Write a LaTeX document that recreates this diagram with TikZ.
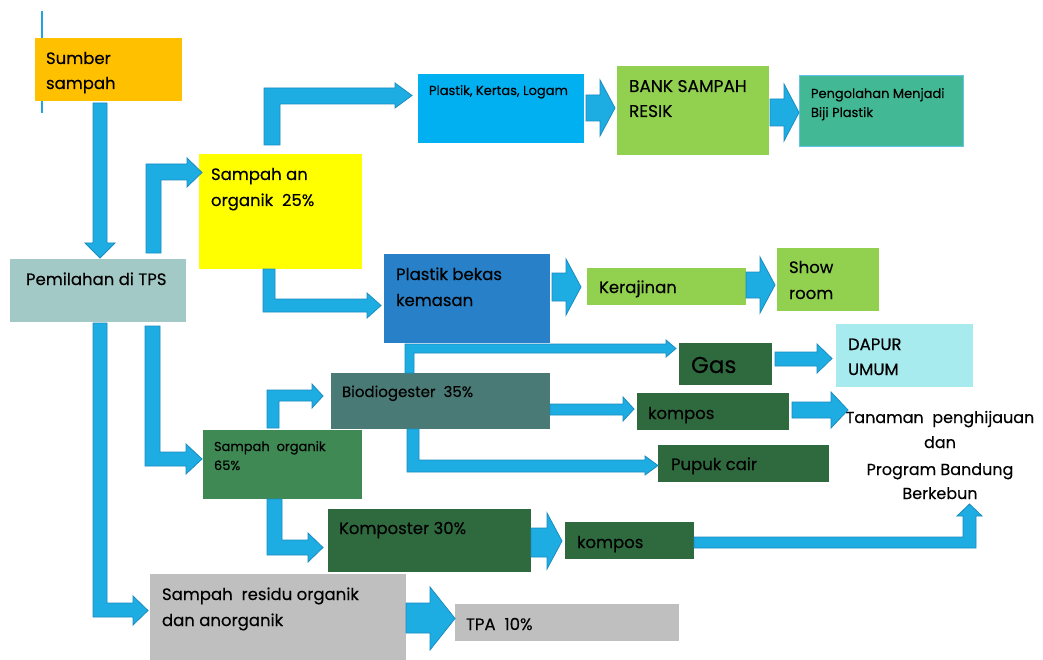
\documentclass[tikz,border=0pt]{standalone}
\usepackage{fontspec}
\setmainfont{Poppins}[FakeBold=0.3]
\definecolor{orangeBox}{HTML}{FFC000}
\definecolor{tpsBox}{HTML}{A3C9C6}
\definecolor{yellowBox}{HTML}{FFFF00}
\definecolor{cyanBox}{HTML}{00B0F0}
\definecolor{limeBox}{HTML}{92D050}
\definecolor{tealBox}{HTML}{43B894}
\definecolor{tealEdge}{HTML}{63C3EA}
\definecolor{blueBox}{HTML}{2881C8}
\definecolor{darkGreen}{HTML}{2F6A3F}
\definecolor{dapurBox}{HTML}{A7EBEE}
\definecolor{bioBox}{HTML}{4A7A75}
\definecolor{soBox}{HTML}{3F8A54}
\definecolor{grayBox}{HTML}{BFBFBF}
\definecolor{arrowFill}{HTML}{1EADE2}
\definecolor{arrowLine}{HTML}{1A8CC0}
\definecolor{thinLine}{HTML}{1FA5DD}
% box: name, x1, y1, x2, y2, colour
\newcommand{\BoxAt}[6]{\node[box, fill=#6, minimum width={(#4-#2)*1pt}, minimum height={(#5-#3)*1pt}] (#1) at (#2,#3) {};}
% straight block arrow: x0, xh, xt, ys1, ys2, yh1, yh2
\newcommand{\HArrow}[7]{\filldraw[blk] (#1,#4) -- (#2,#4) -- (#2,#6) -- (#3,{(#6+#7)/2}) -- (#2,#7) -- (#2,#5) -- (#1,#5) -- cycle;}
% up then right: xl, xr, yb, yt1, yt2, xh, yh1, yh2, xt
\newcommand{\UpRight}[9]{\filldraw[blk] (#1,#3) -- (#1,#4) -- (#6,#4) -- (#6,#7) -- (#9,{(#7+#8)/2}) -- (#6,#8) -- (#6,#5) -- (#2,#5) -- (#2,#3) -- cycle;}
% down then right: xl, xr, ytop, ys1, ys2, xh, yh1, yh2, xt
\newcommand{\DownRight}[9]{\filldraw[blk] (#1,#3) -- (#1,#5) -- (#6,#5) -- (#6,#8) -- (#9,{(#7+#8)/2}) -- (#6,#7) -- (#6,#4) -- (#2,#4) -- (#2,#3) -- cycle;}
\begin{document}
\begin{tikzpicture}[x=1pt,y=-1pt,
  box/.style={rectangle, draw=none, inner sep=0pt, outer sep=0pt, anchor=north west},
  txt/.style={inner sep=0pt, outer sep=0pt, anchor=base west, text=black, font=\fontsize{16.5}{20}\selectfont},
  small/.style={font=\fontsize{13}{15}\selectfont},
  ctxt/.style={txt, anchor=base, font=\fontsize{16}{20}\selectfont},
  blk/.style={fill=arrowFill, draw=arrowLine, line width=0.8pt, line join=miter}]
\useasboundingbox (0,0) rectangle (1043,660);
\fill[white] (0,0) rectangle (1043,660);

% thin vertical line behind the first box
\coordinate (lineTop) at (42,11);
\coordinate (lineBot) at (42,113);
\draw[thinLine, line width=1.6pt] (lineTop) -- (lineBot);

% boxes
\BoxAt{sumber}{35}{38}{182}{101}{orangeBox}
\BoxAt{tps}{10}{259}{186}{322}{tpsBox}
\BoxAt{anorg}{199}{154}{362}{269}{yellowBox}
\BoxAt{pkl}{418}{74}{584}{143}{cyanBox}
\BoxAt{bank}{617}{66}{769}{155}{limeBox}
\node[box, fill=tealBox, draw=tealEdge, line width=1pt, minimum width=164pt, minimum height=71pt] (olah) at (799,76) {};
\BoxAt{pbk}{384}{254}{550}{343}{blueBox}
\BoxAt{kraj}{587}{268}{746}{305}{limeBox}
\BoxAt{show}{777}{248}{879}{311}{limeBox}
\BoxAt{gas}{679}{343}{772}{385}{darkGreen}
\BoxAt{dapur}{836}{324}{973}{387}{dapurBox}
\BoxAt{bio}{331}{373}{550}{429}{bioBox}
\BoxAt{komposA}{637}{393}{789}{430}{darkGreen}
\BoxAt{pupuk}{658}{445}{829}{482}{darkGreen}
\BoxAt{org}{203}{430}{362}{499}{soBox}
\BoxAt{komposter}{328}{509}{531}{572}{darkGreen}
\BoxAt{komposB}{565}{522}{694}{559}{darkGreen}
\BoxAt{residu}{150}{574}{406}{660}{grayBox}
\BoxAt{tpa}{455}{604}{679}{641}{grayBox}

% texts
\node[txt] (tSumber1) at (46,64) {Sumber};
\node[txt] (tSumber2) at (46,89) {sampah};
\node[txt] (tTps) at (26,285) {Pemilahan di TPS};
\node[txt] (tAn1) at (211,180) {Sampah an};
\node[txt] (tAn2) at (211,206) {organik\ \ 25\%};
\node[txt, small] (tPkl) at (429,95) {Plastik, Kertas, Logam};
\node[txt, font=\fontsize{17}{20}\selectfont] (tBank1) at (629,92) {BANK SAMPAH};
\node[txt, font=\fontsize{17}{20}\selectfont] (tBank2) at (629,117) {RESIK};
\node[txt, small] (tOlah1) at (811,98) {Pengolahan Menjadi};
\node[txt, small] (tOlah2) at (811,117) {Biji Plastik};
\node[txt] (tPbk1) at (396,280) {Plastik bekas};
\node[txt] (tPbk2) at (396,306) {kemasan};
\node[txt] (tKraj) at (599,293) {Kerajinan};
\node[txt] (tShow1) at (789,273) {Show};
\node[txt] (tShow2) at (789,299) {room};
\node[txt, font=\fontsize{23}{26}\selectfont] (tGas) at (691,373) {Gas};
\node[txt] (tDapur1) at (848,350) {DAPUR};
\node[txt] (tDapur2) at (848,375) {UMUM};
\node[txt, font=\fontsize{15}{18}\selectfont] (tBio) at (342,397) {Biodiogester\ \ 35\%};
\node[txt] (tKomposA) at (648,419) {kompos};
\node[txt] (tPupuk) at (671,470) {Pupuk cair};
\node[ctxt] (tTan1) at (940,423) {Tanaman\ \ penghijauan};
\node[ctxt] (tTan2) at (940,448) {dan};
\node[ctxt] (tTan3) at (940,475) {Program Bandung};
\node[ctxt] (tTan4) at (940,499) {Berkebun};
\node[txt, small] (tOrg1) at (214,451) {Sampah\ \ organik};
\node[txt, small] (tOrg2) at (214,470) {65\%};
\node[txt] (tKomposter) at (339,534) {Komposter 30\%};
\node[txt] (tKomposB) at (577,548) {kompos};
\node[txt] (tRes1) at (162,600) {Sampah\ \ residu organik};
\node[txt] (tRes2) at (162,626) {dan anorganik};
\node[txt] (tTpa) at (466,630) {TPA\ \ 10\%};

% block arrows
\filldraw[blk] (93,103) -- (93,243) -- (85,243) -- (100,258) -- (115,243) -- (107,243) -- (107,103) -- cycle;
\UpRight{146}{161}{253}{164}{180}{187}{158}{187}{202}
\UpRight{264}{280}{145}{88}{104}{395}{83}{108}{412}
\DownRight{263}{275}{269}{299}{312}{367}{293}{318}{381}
\DownRight{145}{160}{326}{452}{466}{186}{444}{474}{202}
\DownRight{93}{107}{323}{603}{617}{133}{596}{625}{148}
\UpRight{267}{279}{428}{390}{401}{312}{384}{408}{323}
\DownRight{267}{282}{499}{540}{555}{308}{533}{562}{323}
\UpRight{405}{414}{373}{344}{353}{666}{340}{357}{676}
\HArrow{550}{623}{634}{404}{415}{397}{421}
\DownRight{407}{419}{429}{460}{472}{645}{456}{475}{658}
\HArrow{586}{600}{615}{95}{121}{80}{136}
\HArrow{770}{784}{799}{99}{126}{84}{141}
\HArrow{552}{566}{581}{273}{301}{259}{315}
\HArrow{746}{760}{775}{272}{298}{257}{313}
\HArrow{775}{817}{832}{352}{366}{344}{373}
\HArrow{792}{831}{848}{402}{418}{392}{428}
\HArrow{531}{547}{562}{528}{557}{513}{569}
\filldraw[blk] (694,537) -- (963,537) -- (963,516) -- (957,516) -- (969.5,504) -- (982,516) -- (976,516) -- (976,548) -- (694,548) -- cycle;
\HArrow{406}{430}{455}{603}{633}{587}{650}
\end{tikzpicture}
\end{document}
